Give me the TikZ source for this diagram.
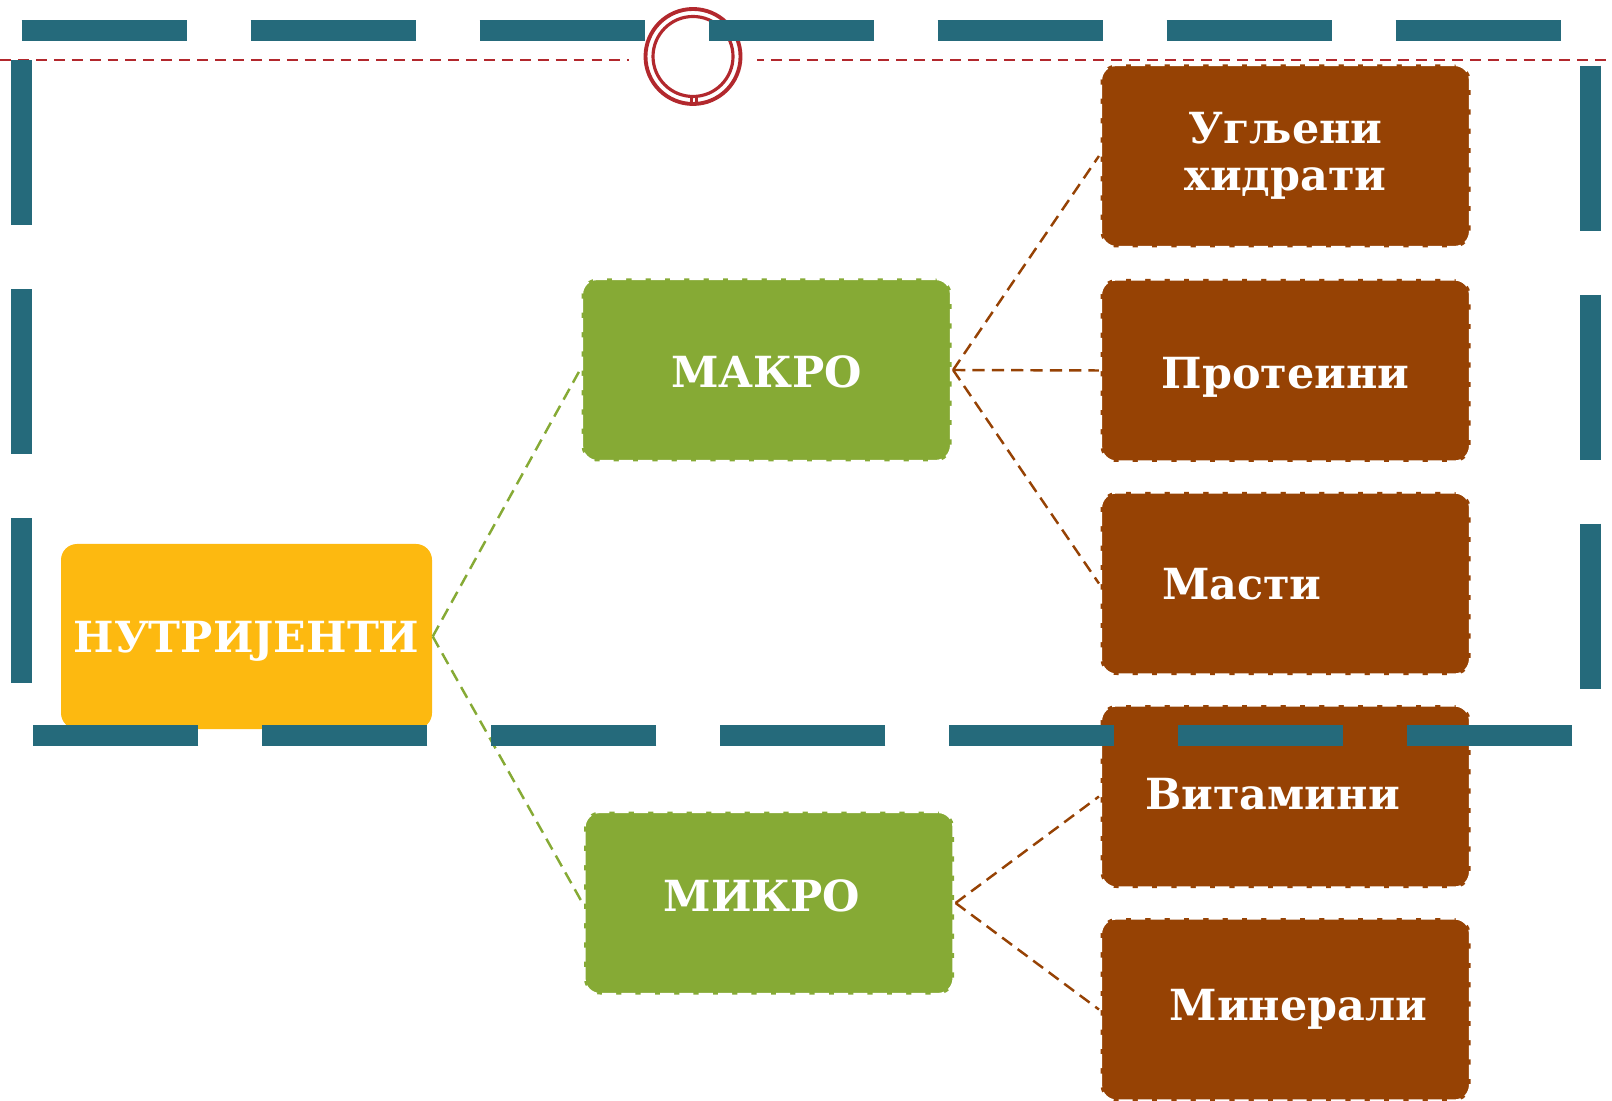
\documentclass[tikz,border=0pt]{standalone}
\usepackage{fontspec}
\setmainfont{DejaVu Serif}
\usepackage{tikz}

\definecolor{frameteal}{RGB}{37,106,123}
\definecolor{ringred}{RGB}{178,40,45}
\definecolor{rootyellow}{RGB}{253,185,16}
\definecolor{groupgreen}{RGB}{134,170,53}
\definecolor{leafbrown}{RGB}{150,66,4}

\begin{document}
\begin{tikzpicture}[
    box/.style={rounded corners=0.16cm, minimum width=3.7cm, minimum height=1.83cm, inner sep=0pt, align=center, text=white, font=\fontsize{12.2}{13.2}\selectfont\bfseries},
    oneline/.style={text height=0.313cm, text depth=0cm},
    rootbox/.style={box, fill=rootyellow},
    groupbox/.style={box, fill=groupgreen, draw=white, line width=0.9pt, dash pattern=on 4pt off 1.5pt},
    leafbox/.style={box, fill=leafbrown, draw=white, line width=0.9pt, dash pattern=on 4pt off 1.5pt},
    greenlink/.style={groupgreen, line width=0.7pt, dash pattern=on 3.5pt off 2pt},
    brownlink/.style={leafbrown, line width=0.7pt, dash pattern=on 3.5pt off 2pt}
  ]
    \useasboundingbox (0,0) rectangle (16.12,-11.01);

    \draw[ringred, line width=0.6pt, dash pattern=on 3.1pt off 2pt] (0,-0.60) -- (16.12,-0.60);
    \fill[white] (6.93,-0.565) circle (0.64);
    \draw[ringred, line width=1.1pt] (6.93,-0.565) circle (0.475);
    \draw[ringred, line width=0.9pt] (6.93,-0.565) circle (0.40);
    \draw[ringred, line width=0.6pt] (6.915,-0.96) -- (6.915,-1.03);
    \draw[ringred, line width=0.6pt] (6.965,-0.96) -- (6.965,-1.03);

    \node[rootbox, oneline, minimum width=3.71cm, minimum height=1.85cm] (nutr) at (2.465,-6.365) {НУТРИЈЕНТИ};

    \node[groupbox, oneline, text height=0.353cm] (makro) at (7.665,-3.70) {МАКРО};
    \node[groupbox, oneline, text depth=0.14cm] (mikro) at (7.69,-9.03) {МИКРО\hspace*{0.14cm}};

    \node[leafbox] (ugljeni) at (12.855,-1.56) {Угљени\\хидрати};
    \node[leafbox, oneline, text height=0.353cm] (proteini) at (12.855,-3.705) {Протеини};
    \node[leafbox, oneline] (masti) at (12.855,-5.835) {\makebox[2.47cm][l]{Масти}};
    \node[leafbox, oneline, text depth=0.06cm] (vitamini) at (12.855,-7.965) {Витамини\hspace*{0.26cm}};
    \node[leafbox, oneline, text depth=0.1cm] (minerali) at (12.855,-10.095) {\hspace*{0.26cm}Минерали};

    \draw[greenlink] (nutr.east) -- (makro.west);
    \draw[greenlink] (nutr.east) -- (mikro.west);
    \draw[brownlink] (makro.east) -- (ugljeni.west);
    \draw[brownlink] (makro.east) -- (proteini.west);
    \draw[brownlink] (makro.east) -- (masti.west);
    \draw[brownlink] (mikro.east) -- (vitamini.west);
    \draw[brownlink] (mikro.east) -- (minerali.west);

    \draw[frameteal, line width=0.21cm, dash pattern=on 1.65cm off 0.64cm]
      (0.216,-0.31) -- (15.90,-0.31) -- (15.90,-7.35) -- (0.216,-7.35) -- cycle;
\end{tikzpicture}
\end{document}
